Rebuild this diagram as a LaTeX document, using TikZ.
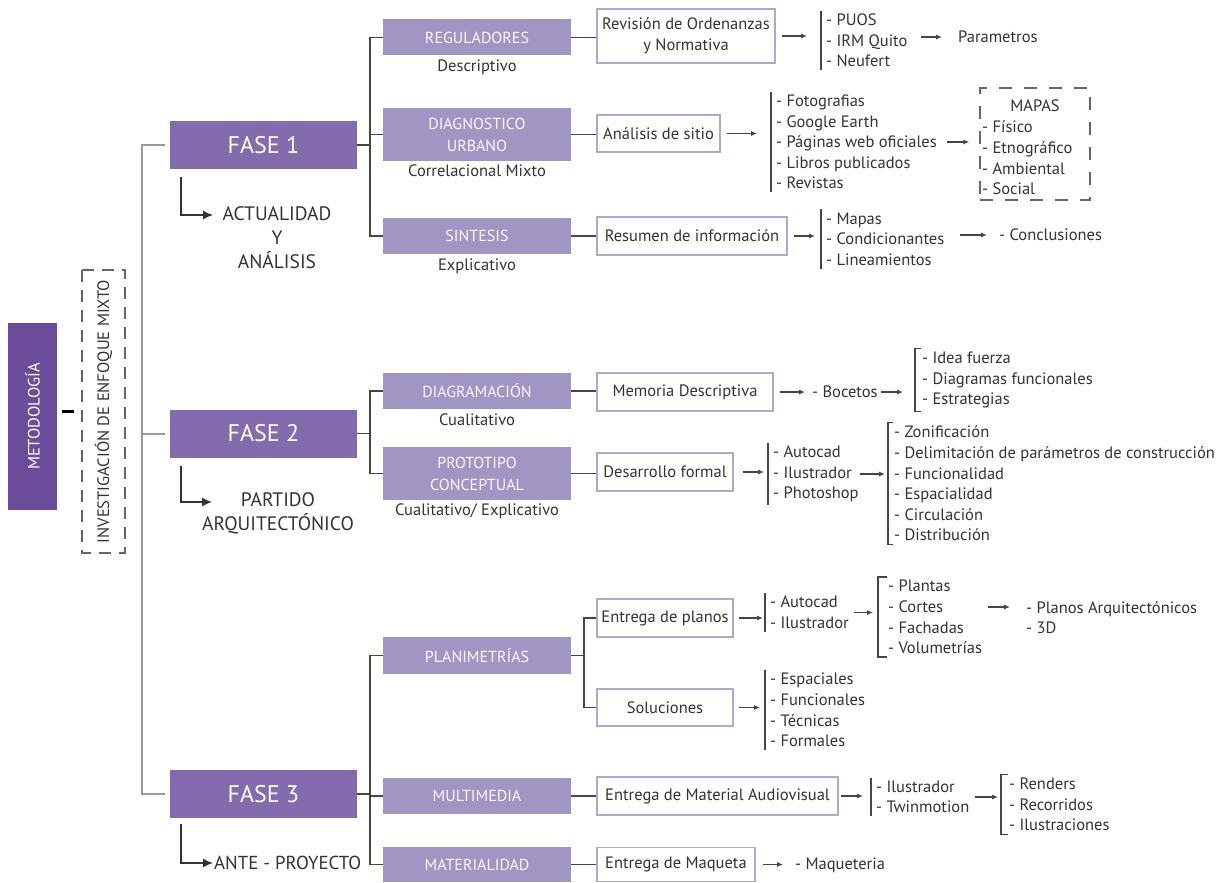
\documentclass[tikz,border=0pt]{standalone}
\usepackage{fontspec}
\setmainfont{PT Sans}
\usetikzlibrary{positioning,arrows.meta}
\definecolor{metcol}{HTML}{6B4C9B}
\definecolor{fasecol}{HTML}{846BAE}
\definecolor{ramacol}{HTML}{A195C3}
\definecolor{bordecol}{HTML}{B2A7D4}
\definecolor{textcol}{HTML}{333333}
\definecolor{lineacol}{HTML}{454545}
\definecolor{grisclaro}{HTML}{9A9A9A}
\definecolor{grisosc}{HTML}{666666}

\begin{document}
\begin{tikzpicture}[x=1pt,y=-1pt,
  every node/.style={text=textcol, font=\fontsize{16.5}{20.6}\selectfont},
  metbox/.style={fill=metcol, text=white, rotate=90, minimum width=187pt, minimum height=49pt,
    inner sep=0pt, font=\fontsize{16.5}{18}\selectfont},
  invbox/.style={draw=grisosc, dash pattern=on 12pt off 8pt, line width=1.1pt, rotate=90,
    minimum width=283pt, minimum height=43pt, inner sep=0pt},
  fasebox/.style={fill=fasecol, text=white, minimum width=187pt, minimum height=48pt,
    font=\fontsize{24}{26}\selectfont},
  fasetxt/.style={align=center, font=\fontsize{19.5}{24}\selectfont},
  ramabox/.style={fill=ramacol, text=white!92!ramacol, minimum width=188pt, align=center,
    inner sep=2pt, font=\fontsize{16}{22}\selectfont},
  tareabox/.style={draw=bordecol, line width=1.2pt, fill=white, align=center,
    minimum height=37pt, inner sep=2pt},
  mapabox/.style={draw=grisosc, dash pattern=on 13pt off 12pt, line width=1.3pt,
    minimum width=110pt, minimum height=112pt},
  lista/.style={align=left, inner xsep=0pt, inner ysep=3pt},
  sub/.style={inner sep=1pt},
  linea/.style={draw=lineacol, line width=1.1pt},
  tronco/.style={draw=grisclaro, line width=2pt},
  guion/.style={draw=black, line width=2.5pt, shorten <=5pt, shorten >=7pt},
  flecha/.style={linea, -{Latex[length=6pt,width=5pt]}, shorten <=6pt, shorten >=11pt},
  codo/.style={draw=textcol, line width=1.4pt, -{Latex[length=10pt,width=9pt]}}
  ]
  \path[use as bounding box, fill=white] (0,0) rectangle (1227,883);

  \node[metbox] (met) at (32.5,416.5) {METODOLOGÍA};
  \node[invbox] (inv) at (103.5,411.5) {INVESTIGACIÓN DE ENFOQUE MIXTO};

  \node[fasebox] (fase1) at (263.5,145) {FASE 1};
  \node[fasebox] (fase2) at (263.5,433.5) {FASE 2};
  \node[fasebox] (fase3) at (263.5,794) {FASE 3};

  \node[fasetxt] (actual) at (277,238) {ACTUALIDAD\\Y\\ANÁLISIS};
  \node[fasetxt] (partido) at (278,513) {PARTIDO\\ARQUITECTÓNICO};
  \node[fasetxt, anchor=west, inner sep=0pt, font=\fontsize{18.8}{24}\selectfont] (ante) at (214,863) {ANTE - PROYECTO};
  \coordinate (tip1) at (213,215);
  \coordinate (tip2) at (212,502);

  \node[ramabox, minimum height=36pt] (reg) at (477,37.5) {REGULADORES};
  \node[sub, below=3pt of reg] (reg-s) {Descriptivo};
  \node[ramabox, minimum height=53pt] (diag) at (477,134.5) {DIAGNOSTICO\\URBANO};
  \node[sub, below=2pt of diag] (diag-s) {Correlacional Mixto};
  \node[ramabox, minimum height=36pt] (sint) at (477,236) {SINTESIS};
  \node[sub, below=3pt of sint] (sint-s) {Explicativo};

  \node[tareabox, minimum width=178pt, minimum height=54pt] (rev) at (686,36) {Revisión de Ordenanzas\\y Normativa};
  \node[tareabox, minimum width=123pt] (sitio) at (658.5,133.5) {Análisis de sitio};
  \node[tareabox, minimum width=190pt, minimum height=38pt] (resumen) at (692,236) {Resumen de información};

  \node[lista, anchor=west] (puos) at (826,40.5) {- PUOS\\- IRM Quito\\- Neufert};
  \node[lista, anchor=west] (param) at (958,37) {Parametros};
  \node[lista, anchor=west] (fotos) at (776,142) {- Fotografias\\- Google Earth\\- Páginas web oficiales\\- Libros publicados\\- Revistas};
  \node[mapabox] (mapas) at (1035,144) {};
  \node (mapas-t) at (1035,106) {MAPAS};
  \node[lista, anchor=west] (mapas-l) at (982,158) {- Físico\\- Etnográfico\\- Ambiental\\- Social};
  \node[lista, anchor=west] (cond) at (826,239) {- Mapas\\- Condicionantes\\- Lineamientos};
  \node[lista, anchor=west] (concl) at (999,235) {- Conclusiones};

  \node[ramabox, minimum height=36pt] (diagr) at (477,391) {DIAGRAMACIÓN};
  \node[sub, below=3pt of diagr] (diagr-s) {Cualitativo};
  \node[ramabox, minimum height=53pt] (proto) at (477,473.5) {PROTOTIPO\\CONCEPTUAL};
  \node[sub, below=2pt of proto] (proto-s) {Cualitativo/ Explicativo};

  \node[tareabox, minimum width=176pt, minimum height=38pt] (memoria) at (685,392) {Memoria Descriptiva};
  \node[tareabox, minimum width=136pt, minimum height=38pt] (desarrollo) at (665,472) {Desarrollo formal};
  \node[lista, anchor=west] (bocetos) at (812,392) {- Bocetos};
  \node[lista, anchor=west] (idea) at (922,380) {- Idea fuerza\\- Diagramas funcionales\\- Estrategias};
  \node[lista, anchor=west] (autocad) at (773,474) {- Autocad\\- Ilustrador\\- Photoshop};
  \node[lista, anchor=west] (zonif) at (894,483.5) {- Zonificación\\- Delimitación de parámetros de construcción\\- Funcionalidad\\- Espacialidad\\- Circulación\\- Distribución};

  \node[ramabox, minimum height=37pt] (plan) at (477,655.5) {PLANIMETRÍAS};
  \node[ramabox, minimum height=36pt] (mult) at (477,796) {MULTIMEDIA};
  \node[ramabox, minimum height=35pt] (mat) at (477,864.5) {MATERIALIDAD};

  \node[tareabox, minimum width=136pt, minimum height=38pt] (planos) at (665,618) {Entrega de planos};
  \node[tareabox, minimum width=136pt] (soluc) at (665,707.5) {Soluciones};
  \node[tareabox, minimum width=241pt, minimum height=38pt] (audio) at (717.5,796) {Entrega de Material Audiovisual};
  \node[tareabox, minimum width=158pt, minimum height=34pt] (maqueta) at (676,864.5) {Entrega de Maqueta};

  \node[lista, anchor=west] (autocad2) at (770,612.5) {- Autocad\\- Ilustrador};
  \node[lista, anchor=west] (plantas) at (888,617) {- Plantas\\- Cortes\\- Fachadas\\- Volumetrías};
  \node[lista, anchor=west] (parq) at (1026,617.5) {- Planos Arquitectónicos\\- 3D};
  \node[lista, anchor=west] (espac) at (770,710) {- Espaciales\\- Funcionales\\- Técnicas\\- Formales};
  \node[lista, anchor=west] (ilustr) at (876,797) {- Ilustrador\\- Twinmotion};
  \node[lista, anchor=west] (renders) at (1009,804.5) {- Renders\\- Recorridos\\- Ilustraciones};
  \node[lista, anchor=west] (maquet) at (795,865) {- Maqueteria};

  \coordinate (t0) at (142,0);
  \coordinate (r1) at (370,0);
  \coordinate (r3) at (584,0);

  \draw[guion] (inv.north -| met.south) -- (inv.north);
  \draw[tronco] ([xshift=-5pt]fase1.west) -- (fase1.west -| t0) -- (fase3.west -| t0) -- ([xshift=-5pt]fase3.west);
  \draw[tronco] (fase2.west -| t0) -- ([xshift=-5pt]fase2.west);

  \draw[codo] ([xshift=11pt,yshift=-8pt]fase1.south west) |- (tip1);
  \draw[codo] ([xshift=11pt,yshift=-8pt]fase2.south west) |- (tip2);
  \draw[codo, shorten >=1pt] ([xshift=11pt,yshift=-6pt]fase3.south west) |- (ante.west);

  \draw[linea] (fase1.east) -- (fase1.east -| r1);
  \draw[linea] (reg.west) -- (reg.west -| r1) -- (sint.west -| r1) -- (sint.west);
  \draw[linea] (diag.west) -- (diag.west -| r1);
  \draw[linea] (fase2.east) -- (fase2.east -| r1);
  \draw[linea] (diagr.west) -- (diagr.west -| r1) -- (proto.west -| r1) -- (proto.west);
  \draw[linea] (fase3.east) -- (fase3.east -| r1);
  \draw[linea] (plan.west) -- (plan.west -| r1) -- (mat.west -| r1) -- (mat.west);
  \draw[linea] (mult.west) -- (mult.west -| r1);

  \draw[linea] (reg.east) -- (reg.east -| rev.west);
  \draw[linea] (diag.east) -- (diag.east -| sitio.west);
  \draw[linea] (sint.east) -- (sint.east -| resumen.west);
  \draw[linea] (diagr.east) -- (diagr.east -| memoria.west);
  \draw[linea] (proto.east) -- (proto.east -| desarrollo.west);
  \draw[linea] (plan.east) -- (plan.east -| r3);
  \draw[linea] (planos.west) -- (planos.west -| r3) -- (soluc.west -| r3) -- (soluc.west);
  \draw[linea] (mult.east) -- (mult.east -| audio.west);
  \draw[linea] (mat.east) -- (mat.east -| maqueta.west);

  \foreach \l in {puos,fotos,cond,autocad,autocad2,espac,ilustr}
    \draw[linea] ([xshift=-5pt]\l.north west) -- ([xshift=-5pt]\l.south west);
  \foreach \l/\d in {idea/7,zonif/6,plantas/10,renders/8}
    \draw[linea] ([xshift=-1pt]\l.north west) -| ([xshift=-\d pt]\l.south west) -- ([xshift=-1pt]\l.south west);

  \draw[flecha, shorten >=19pt] (rev.east) -- (rev.east -| puos.west);
  \draw[flecha, shorten <=13pt, shorten >=16pt] (param.west -| puos.east) -- (param.west);
  \draw[flecha, shorten >=19pt] (sitio.east) -- (sitio.east -| fotos.west);
  \draw[flecha, shorten <=10pt, shorten >=10pt] (fotos.east) -- (fotos.east -| mapas.west);
  \draw[flecha] (resumen.east) -- (resumen.east -| cond.west);
  \draw[flecha, shorten <=16pt, shorten >=12pt] (concl.west -| cond.east) -- (concl.west);
  \draw[flecha, shorten >=7pt] (memoria.east) -- (memoria.east -| bocetos.west);
  \draw[flecha, shorten <=3pt, shorten >=19pt] (bocetos.east) -- (bocetos.east -| idea.west);
  \draw[flecha, shorten <=9pt, shorten >=9pt] (desarrollo.east) -- (desarrollo.east -| autocad.west);
  \draw[flecha, shorten <=1pt, shorten >=9pt] (autocad.east) -- (autocad.east -| zonif.west);
  \draw[flecha, shorten <=5pt, shorten >=7pt] (planos.east) -- (planos.east -| autocad2.west);
  \draw[flecha, shorten <=5pt, shorten >=15pt] (autocad2.east) -- (autocad2.east -| plantas.west);
  \draw[flecha, shorten >=16pt] ([yshift=10pt]plantas.east) -- ([yshift=10pt]plantas.east -| parq.west);
  \draw[flecha, shorten <=5pt, shorten >=10pt] (soluc.east) -- (soluc.east -| espac.west);
  \draw[flecha, shorten <=2pt, shorten >=13pt] (audio.east) -- (audio.east -| ilustr.west);
  \draw[flecha, shorten <=5pt] (ilustr.east) -- (ilustr.east -| renders.west);
  \draw[flecha, shorten <=7pt, shorten >=12pt] (maqueta.east) -- (maqueta.east -| maquet.west);
\end{tikzpicture}
\end{document}
